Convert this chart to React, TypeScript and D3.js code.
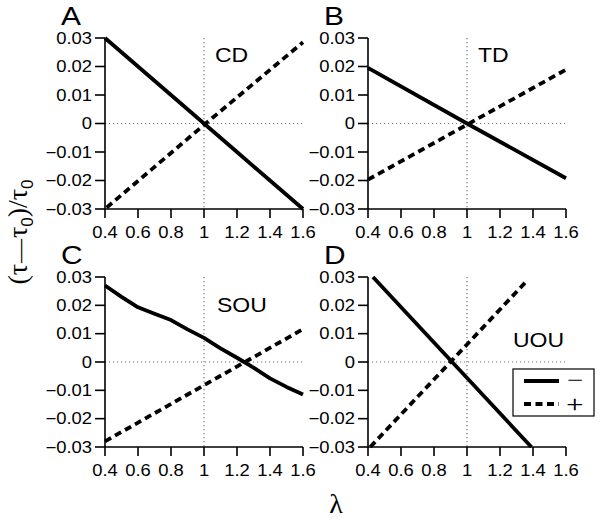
import React from 'react';
import * as d3 from 'd3';

// ---- data ----
const xTicks = [0.4, 0.6, 0.8, 1, 1.2, 1.4, 1.6];
const xTickLabels = ['0.4', '0.6', '0.8', '1', '1.2', '1.4', '1.6'];
const yTicks = [0.03, 0.02, 0.01, 0, -0.01, -0.02, -0.03];
const yTickLabels = ['0.03', '0.02', '0.01', '0', '\u22120.01', '\u22120.02', '\u22120.03'];

const panelLetters = ['A', 'B', 'C', 'D'];
const panelNames = ['CD', 'TD', 'SOU', 'UOU'];
const legendLabels = ['\u2212', '+'];

// CD
const cdMinusX = [0.4, 0.6, 0.8, 1.0, 1.2, 1.4, 1.6];
const cdMinusY = [0.03, 0.02, 0.01, 0.0, -0.01, -0.02, -0.03];
const cdPlusX = [0.41, 1.0, 1.6];
const cdPlusY = [-0.0295, -0.0005, 0.0285];
// TD
const tdMinusX = [0.4, 1.0, 1.6];
const tdMinusY = [0.0195, 0.0, -0.0192];
const tdPlusX = [0.4, 1.0, 1.6];
const tdPlusY = [-0.0197, -0.0004, 0.0189];
// SOU
const souMinusX = [0.4, 0.5, 0.6, 0.7, 0.8, 0.9, 1.0, 1.1, 1.2, 1.3, 1.4, 1.5, 1.6];
const souMinusY = [0.027, 0.023, 0.0193, 0.017, 0.0148, 0.0115, 0.0085, 0.0048, 0.0015, -0.002, -0.0058, -0.0088, -0.0115];
const souPlusX = [0.4, 1.0, 1.6];
const souPlusY = [-0.028, -0.0082, 0.0116];
// UOU
const uouMinusX = [0.43, 0.91, 1.39];
const uouMinusY = [0.03, 0.0, -0.03];
const uouPlusX = [0.414, 1.0, 1.362];
const uouPlusY = [-0.03, 0.0062, 0.0286];

const minusXs = [cdMinusX, tdMinusX, souMinusX, uouMinusX];
const minusYs = [cdMinusY, tdMinusY, souMinusY, uouMinusY];
const plusXs = [cdPlusX, tdPlusX, souPlusX, uouPlusX];
const plusYs = [cdPlusY, tdPlusY, souPlusY, uouPlusY];

// ---- layout ----
const W = 600;
const H = 522;
const panels = [
  { left: 105, top: 38, w: 198, h: 171, nameX: 215, nameY: 62 },
  { left: 368, top: 38, w: 198, h: 171, nameX: 478, nameY: 62 },
  { left: 105, top: 277, w: 198, h: 170, nameX: 217, nameY: 312 },
  { left: 368, top: 277, w: 198, h: 170, nameX: 513, nameY: 347 },
];
const SX = 1.15; // horizontal text stretch
const SANS = '"Liberation Sans", Arial, sans-serif';
const SERIF = '"Liberation Serif", "Times New Roman", serif';
const LIGHT = 'Roboto, "Liberation Sans", sans-serif';

function T({ x, y, anchor = 'start', size, family = SANS, children, fill = '#000', weight = 400, sx = SX }: any) {
  return (
    <text
      transform={`translate(${x},${y}) scale(${sx},1)`}
      textAnchor={anchor}
      fontSize={size}
      fontFamily={family}
      fontWeight={weight}
      fill={fill}
    >
      {children}
    </text>
  );
}

function Panel({ i }: { i: number }) {
  const p = panels[i];
  const x = d3.scaleLinear().domain([0.4, 1.6]).range([p.left, p.left + p.w]);
  const y = d3.scaleLinear().domain([-0.03, 0.03]).range([p.top + p.h, p.top]);
  const mk = (xs: number[], ys: number[]) =>
    d3
      .line<number>()
      .x((d) => x(d))
      .y((_, k) => y(ys[k]))(xs) as string;
  const bottom = p.top + p.h;
  return (
    <g>
      {/* reference dotted lines */}
      <line x1={p.left} x2={p.left + p.w} y1={y(0)} y2={y(0)} stroke="#777" strokeWidth={1.2} strokeDasharray="1.2,2.8" />
      <line x1={x(1)} x2={x(1)} y1={p.top} y2={bottom} stroke="#777" strokeWidth={1.2} strokeDasharray="1.2,2.8" />
      {/* data */}
      <path d={mk(minusXs[i], minusYs[i])} fill="none" stroke="#000" strokeWidth={3.8} strokeLinejoin="round" />
      <path d={mk(plusXs[i], plusYs[i])} fill="none" stroke="#000" strokeWidth={3.8} strokeDasharray="7,4.5" />
      {/* axes */}
      <line x1={p.left} x2={p.left} y1={p.top} y2={bottom} stroke="#000" strokeWidth={1.6} />
      <line x1={p.left} x2={p.left + p.w} y1={bottom} y2={bottom} stroke="#000" strokeWidth={1.6} />
      {yTicks.map((t, k) => (
        <g key={'y' + k}>
          <line x1={p.left - 10} x2={p.left} y1={y(t)} y2={y(t)} stroke="#000" strokeWidth={1.6} />
          <T x={p.left - 13} y={y(t) + 5.5} anchor="end" size={16}>
            {yTickLabels[k]}
          </T>
        </g>
      ))}
      {xTicks.map((t, k) => (
        <g key={'x' + k}>
          <line x1={x(t)} x2={x(t)} y1={bottom} y2={bottom + 9} stroke="#000" strokeWidth={1.6} />
          <T x={x(t)} y={bottom + 29} anchor="middle" size={16}>
            {xTickLabels[k]}
          </T>
        </g>
      ))}
      <T x={p.left - 44} y={p.top - 13} size={26}>
        {panelLetters[i]}
      </T>
      <T x={p.nameX} y={p.nameY} size={20}>
        {panelNames[i]}
      </T>
    </g>
  );
}

export default function App() {
  return (
    <svg width={W} height={H} style={{ position: 'absolute', left: 0, top: 0, background: '#fff' }}>
      <rect x={0} y={0} width={W} height={H} fill="#fff" />
      {panels.map((_, i) => (
        <Panel key={i} i={i} />
      ))}
      {/* legend */}
      <g>
        <rect x={513} y={369} width={81} height={47} fill="#fff" stroke="#000" strokeWidth={1.2} />
        <line x1={524} x2={559} y1={381} y2={381} stroke="#000" strokeWidth={3.8} />
        <line x1={524} x2={559} y1={404} y2={404} stroke="#000" strokeWidth={3.8} strokeDasharray="7,4.5" />
        <T x={575} y={388} anchor="middle" size={22} family={LIGHT} weight={300} sx={1.5}>
          {legendLabels[0]}
        </T>
        <T x={575} y={412} anchor="middle" size={22} family={LIGHT} weight={300} sx={1.35}>
          {legendLabels[1]}
        </T>
      </g>
      {/* axis titles */}
      <text x={336} y={513} textAnchor="middle" fontSize={28} fontFamily={SERIF}>
        λ
      </text>
      <text transform="translate(27,232) rotate(-90)" textAnchor="middle" fontSize={28} fontFamily={SERIF}>
        (τ<tspan dx={1} fontSize={24}>—</tspan>
        <tspan dx={1}>τ</tspan>
        <tspan fontSize={17} fontFamily={SANS} dy={6}>0</tspan>
        <tspan dy={-6}>)/τ</tspan>
        <tspan fontSize={17} fontFamily={SANS} dy={6}>0</tspan>
      </text>
    </svg>
  );
}
